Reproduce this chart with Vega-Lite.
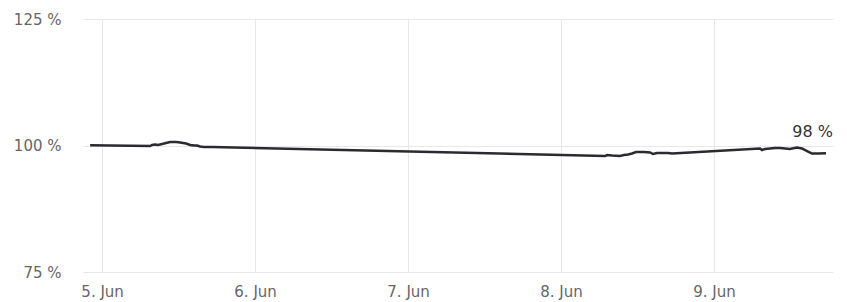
{
  "$schema": "https://vega.github.io/schema/vega-lite/v6.json",
  "width": 750,
  "height": 253,
  "autosize": "none",
  "padding": {"left": 83, "top": 19, "right": 14, "bottom": 30},
  "background": "white",
  "config": {
    "font": "DejaVu Sans",
    "view": {"stroke": null},
    "axis": {"domain": false, "ticks": false, "gridColor": "#e8e8e8", "gridWidth": 1, "labelColor": "#666666", "labelFontSize": 15, "labelFont": "DejaVu Sans"}
  },
  "datasets": {
    "series": [
      {"t": "2024-06-04T22:07", "v": 100.05},
      {"t": "2024-06-05T07:32", "v": 99.9},
      {"t": "2024-06-05T07:50", "v": 100.1},
      {"t": "2024-06-05T08:19", "v": 100.2},
      {"t": "2024-06-05T08:47", "v": 100.1},
      {"t": "2024-06-05T09:25", "v": 100.3},
      {"t": "2024-06-05T10:02", "v": 100.49},
      {"t": "2024-06-05T10:40", "v": 100.69},
      {"t": "2024-06-05T11:37", "v": 100.69},
      {"t": "2024-06-05T12:14", "v": 100.59},
      {"t": "2024-06-05T13:11", "v": 100.4},
      {"t": "2024-06-05T13:48", "v": 100.1},
      {"t": "2024-06-05T14:26", "v": 100.0},
      {"t": "2024-06-05T14:54", "v": 100.0},
      {"t": "2024-06-05T15:22", "v": 99.8},
      {"t": "2024-06-05T16:00", "v": 99.7},
      {"t": "2024-06-05T17:15", "v": 99.7},
      {"t": "2024-06-08T06:54", "v": 97.92},
      {"t": "2024-06-08T07:13", "v": 98.12},
      {"t": "2024-06-08T08:00", "v": 98.02},
      {"t": "2024-06-08T09:15", "v": 97.92},
      {"t": "2024-06-08T09:53", "v": 98.12},
      {"t": "2024-06-08T10:31", "v": 98.22},
      {"t": "2024-06-08T11:08", "v": 98.42},
      {"t": "2024-06-08T11:46", "v": 98.72},
      {"t": "2024-06-08T13:01", "v": 98.72},
      {"t": "2024-06-08T13:58", "v": 98.62},
      {"t": "2024-06-08T14:26", "v": 98.32},
      {"t": "2024-06-08T15:04", "v": 98.52},
      {"t": "2024-06-08T16:47", "v": 98.52},
      {"t": "2024-06-08T17:25", "v": 98.42},
      {"t": "2024-06-09T07:13", "v": 99.41},
      {"t": "2024-06-09T07:32", "v": 99.11},
      {"t": "2024-06-09T08:00", "v": 99.31},
      {"t": "2024-06-09T08:47", "v": 99.41},
      {"t": "2024-06-09T09:34", "v": 99.51},
      {"t": "2024-06-09T10:21", "v": 99.51},
      {"t": "2024-06-09T11:55", "v": 99.31},
      {"t": "2024-06-09T13:01", "v": 99.6},
      {"t": "2024-06-09T13:48", "v": 99.41},
      {"t": "2024-06-09T14:45", "v": 98.81},
      {"t": "2024-06-09T15:22", "v": 98.42},
      {"t": "2024-06-09T16:19", "v": 98.42},
      {"t": "2024-06-09T17:34", "v": 98.45}
    ],
    "last": [
      {"t": "2024-06-09T17:34", "v": 98.45, "label": "98 %"}
    ]
  },
  "layer": [
    {
      "data": {"name": "series"},
      "mark": {"type": "line", "color": "#2a2a31", "strokeWidth": 2.5, "interpolate": "linear"},
      "encoding": {
        "x": {
          "field": "t", "type": "temporal", "title": null,
          "scale": {"domain": [{"year": 2024, "month": 6, "date": 4, "hours": 21, "minutes": 0}, {"year": 2024, "month": 6, "date": 9, "hours": 18, "minutes": 40}]},
          "axis": {
            "values": [
              {"year": 2024, "month": 6, "date": 5},
              {"year": 2024, "month": 6, "date": 6},
              {"year": 2024, "month": 6, "date": 7},
              {"year": 2024, "month": 6, "date": 8},
              {"year": 2024, "month": 6, "date": 9}
            ],
            "format": "%-d. %b",
            "labelPadding": 12,
            "grid": true
          }
        },
        "y": {
          "field": "v", "type": "quantitative", "title": null,
          "scale": {"domain": [75, 125], "nice": false, "zero": false},
          "axis": {"values": [75, 100, 125], "labelExpr": "datum.value + ' %'", "labelPadding": 22, "grid": true}
        }
      }
    },
    {
      "data": {"name": "last"},
      "mark": {"type": "text", "align": "right", "baseline": "alphabetic", "dx": 7, "dy": -16, "fontSize": 16, "color": "#333333", "font": "DejaVu Sans"},
      "encoding": {
        "x": {"field": "t", "type": "temporal"},
        "y": {"field": "v", "type": "quantitative"},
        "text": {"field": "label"}
      }
    }
  ]
}
